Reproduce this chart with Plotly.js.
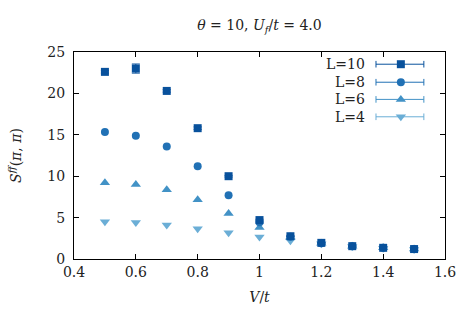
<!DOCTYPE html>
<html><head><meta charset="utf-8">
<script src="https://cdn.plot.ly/plotly-3.0.1.min.js"></script>
<style>html,body{margin:0;padding:0;background:#fff}#chart{width:476px;height:314px}</style>
</head><body><div id="chart"></div>
<script>
const V = [0.5, 0.6, 0.7, 0.8, 0.9, 1.0, 1.1, 1.2, 1.3, 1.4, 1.5];
const L10 = [22.6, 23.0, 20.3, 15.8, 10.0, 4.7, 2.75, 1.95, 1.55, 1.35, 1.2];
const L10err = [0.15, 0.55, 0.15, 0.15, 0.1, 0.1, 0.05, 0.05, 0.05, 0.05, 0.05];
const L8 = [15.35, 14.9, 13.6, 11.2, 7.7, 4.45, 2.7, 1.9, 1.55, 1.35, 1.2];
const L6 = [9.2, 9.0, 8.35, 7.15, 5.5, 3.8, 2.6, 1.9, 1.55, 1.35, 1.2];
const L4 = [4.5, 4.42, 4.1, 3.66, 3.17, 2.65, 2.2, 1.85, 1.5, 1.3, 1.15];
const labels = ['L=10', 'L=8', 'L=6', 'L=4'];
const series = [L10, L8, L6, L4];
const errs = [L10err, null, null, null];
const colors = ['#08519c', '#2171b5', '#4292c6', '#6baed6'];
const symbols = ['square', 'circle', 'triangle-up', 'triangle-down'];
const sizes = [8, 8, 9, 9];
const xTicks = [0.4, 0.6, 0.8, 1.0, 1.2, 1.4, 1.6];
const xTickText = ['0.4', '0.6', '0.8', '1', '1.2', '1.4', '1.6'];
const yTicks = [0, 5, 10, 15, 20, 25];

const font = 'DejaVu Serif';
const fs = 14;
const traces = [];
for (let i = series.length - 1; i >= 0; i--) {
  const t = {
    x: V, y: series[i], type: 'scatter', mode: 'markers', showlegend: false,
    marker: {symbol: symbols[i], size: sizes[i], color: colors[i]}
  };
  if (errs[i]) t.error_y = {type: 'data', array: errs[i], visible: true, color: colors[i], thickness: 1, width: 4};
  traces.push(t);
}
const legX0 = 0.814, legX1 = 0.943, legXm = 0.881, legTextX = 0.79;
const legY = [0.941, 0.854, 0.771, 0.687];
const shapes = [], annotations = [];
for (let i = 0; i < labels.length; i++) {
  traces.push({x: [legXm], y: [legY[i]], xaxis: 'x2', yaxis: 'y2', type: 'scatter', mode: 'markers',
    showlegend: false, hoverinfo: 'skip',
    marker: {symbol: symbols[i], size: sizes[i], color: colors[i]}});
  shapes.push({type: 'line', xref: 'paper', yref: 'paper', x0: legX0, x1: legX1, y0: legY[i], y1: legY[i], line: {color: colors[i], width: 1}});
  [legX0, legX1].forEach(xx => shapes.push({type: 'line', xref: 'paper', yref: 'paper', x0: xx, x1: xx, y0: legY[i] - 0.016, y1: legY[i] + 0.016, line: {color: colors[i], width: 1}}));
  annotations.push({xref: 'paper', yref: 'paper', x: legTextX, y: legY[i], xanchor: 'right', yanchor: 'middle', text: labels[i], showarrow: false, font: {family: font, size: fs, color: '#222'}});
}

const layout = {
  width: 476, height: 314,
  margin: {l: 74, r: 31, t: 52, b: 55},
  paper_bgcolor: '#fff', plot_bgcolor: '#fff',
  font: {family: font, size: fs, color: '#222'},
  title: {text: '<i>θ</i> = 10, <i>U<sub>f</sub></i>/<i>t</i> = 4.0', x: 0.545, xanchor: 'center', y: 0.92, yanchor: 'middle', font: {family: font, size: fs, color: '#222'}},
  xaxis: {range: [0.4, 1.6], tickvals: xTicks, ticktext: xTickText, ticks: 'inside', ticklen: 5, tickcolor: '#000',
    showline: true, linecolor: '#000', linewidth: 1, mirror: 'ticks', showgrid: false, zeroline: false,
    ticklabelstandoff: 0,
    tickfont: {family: font, size: fs, color: '#222'},
    title: {text: '<i>V</i>/<i>t</i>', font: {family: font, size: fs, color: '#222'}, standoff: 13}},
  yaxis: {range: [0, 25], tickvals: yTicks, ticks: 'inside', ticklen: 5, tickcolor: '#000',
    showline: true, linecolor: '#000', linewidth: 1, mirror: 'ticks', showgrid: false, zeroline: false,
    ticklabelstandoff: 5,
    tickfont: {family: font, size: fs, color: '#222'},
    title: {text: '<i>S<sup>ff</sup></i>(<i>π</i>, <i>π</i>)', font: {family: font, size: fs, color: '#222'}, standoff: 22}},
  xaxis2: {overlaying: 'x', range: [0, 1], visible: false, fixedrange: true},
  yaxis2: {overlaying: 'y', range: [0, 1], visible: false, fixedrange: true},
  shapes: shapes, annotations: annotations, showlegend: false
};
Plotly.newPlot('chart', traces, layout, {displayModeBar: false, staticPlot: true});
</script></body></html>
